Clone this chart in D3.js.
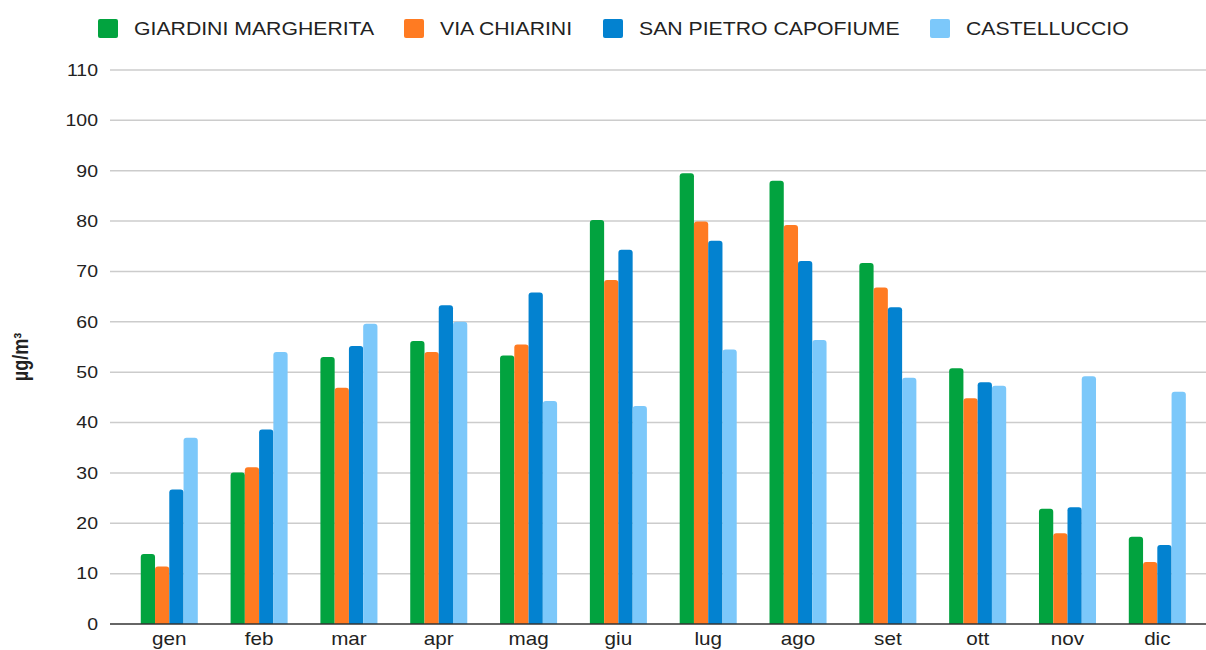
<!DOCTYPE html>
<html>
<head>
<meta charset="utf-8">
<script src="https://cdn.jsdelivr.net/npm/d3@7"></script>
<style>
  body { margin: 0; background: #fff; }
  svg { display: block; font-family: 'Liberation Sans', Arial, sans-serif; }
</style>
</head>
<body>
<svg id="chart" width="1206" height="650"></svg>
<script>
  'use strict';

  // Data.
  var months = [ 'gen', 'feb', 'mar', 'apr', 'mag', 'giu', 'lug', 'ago', 'set', 'ott', 'nov', 'dic' ];
  var seriesNames = [ 'GIARDINI MARGHERITA', 'VIA CHIARINI', 'SAN PIETRO CAPOFIUME', 'CASTELLUCCIO' ];
  var giardiniMargherita = [ 13.9, 30.1, 53.0, 56.2, 53.3, 80.2, 89.5, 88.0, 71.7, 50.8, 22.9, 17.3 ];
  var viaChiarini        = [ 11.4, 31.1, 46.9, 54.0, 55.5, 68.3, 79.9, 79.2, 66.8, 44.8, 18.0, 12.3 ];
  var sanPietro          = [ 26.7, 38.6, 55.2, 63.3, 65.8, 74.3, 76.1, 72.1, 62.9, 48.0, 23.2, 15.7 ];
  var castelluccio       = [ 37.0, 54.0, 59.6, 60.0, 44.3, 43.3, 54.5, 56.4, 48.9, 47.3, 49.2, 46.1 ];
  var yTicks = [ 0, 10, 20, 30, 40, 50, 60, 70, 80, 90, 100, 110 ];
  var yLabel = 'µg/m³';

  var series = [ giardiniMargherita, viaChiarini, sanPietro, castelluccio ];
  var colors = [ '#02a33f', '#ff7b22', '#0382d0', '#7cc8fa' ];

  var svg = d3.select( '#chart' );

  // The picture is stretched sideways, so text is too.
  var stretch = 1.18;

  var gridLeft  = 110,
      gridRight = 1206;

  var x = d3.scaleBand()
    .domain( months )
    .range( [ 124.6, 1202 ] )
    .paddingInner( 0.365 )
    .paddingOuter( 0.18 );

  var x1 = d3.scaleBand()
    .domain( d3.range( series.length ) )
    .range( [ 0, x.bandwidth() ] );

  var y = d3.scaleLinear()
    .domain( [ 0, 110 ] )
    .range( [ 624, 70 ] );

  function stretched( tx, ty ) {
    return 'translate(' + tx + ',' + ty + ') scale(' + stretch + ',1)';
  }

  // Gridlines.
  svg.append( 'g' )
    .selectAll( 'line' )
    .data( yTicks.slice( 1 ) )
    .join( 'line' )
      .attr( 'x1', gridLeft )
      .attr( 'x2', gridRight )
      .attr( 'y1', y )
      .attr( 'y2', y )
      .style( 'stroke', '#cccccc' )
      .style( 'stroke-width', 1.5 );

  // Y tick labels.
  svg.append( 'g' )
    .selectAll( 'text' )
    .data( yTicks )
    .join( 'text' )
      .attr( 'transform', function( d ) { return stretched( 98, y( d ) ); } )
      .attr( 'dy', '0.35em' )
      .style( 'text-anchor', 'end' )
      .style( 'font-size', '16.5px' )
      .style( 'fill', '#222' )
      .text( function( d ) { return d; } );

  // Rounded-top bar path.
  function barPath( x0, w, yTop, yBase ) {
    var r = Math.min( 3, ( yBase - yTop ) / 2 );
    return 'M' + x0 + ',' + yBase +
      'V' + ( yTop + r ) +
      'Q' + x0 + ',' + yTop + ' ' + ( x0 + r ) + ',' + yTop +
      'H' + ( x0 + w - r ) +
      'Q' + ( x0 + w ) + ',' + yTop + ' ' + ( x0 + w ) + ',' + ( yTop + r ) +
      'V' + yBase + 'Z';
  }

  var groups = svg.append( 'g' )
    .selectAll( 'g' )
    .data( months )
    .join( 'g' )
      .attr( 'transform', function( m ) { return 'translate(' + x( m ) + ',0)'; } );

  groups.selectAll( 'path' )
    .data( function( m, i ) {
      return series.map( function( s, k ) { return { k: k, v: s[ i ] }; } );
    })
    .join( 'path' )
      .attr( 'd', function( d ) {
        return barPath( x1( d.k ), x1.bandwidth(), y( d.v ), y( 0 ) );
      })
      .style( 'fill', function( d ) { return colors[ d.k ]; } );

  // Baseline.
  svg.append( 'line' )
    .attr( 'x1', gridLeft )
    .attr( 'x2', gridRight )
    .attr( 'y1', y( 0 ) )
    .attr( 'y2', y( 0 ) )
    .style( 'stroke', '#333' )
    .style( 'stroke-width', 1.5 );

  // X labels (kept just inside the bottom edge).
  svg.append( 'g' )
    .selectAll( 'text' )
    .data( months )
    .join( 'text' )
      .attr( 'transform', function( m ) { return stretched( x( m ) + x.bandwidth() / 2, 645 ); } )
      .style( 'text-anchor', 'middle' )
      .style( 'font-size', '17.5px' )
      .style( 'fill', '#222' )
      .text( function( m ) { return m; } );

  // Y axis title.
  svg.append( 'text' )
    .attr( 'transform', 'translate(28,357) rotate(-90) scale(1,' + stretch + ')' )
    .style( 'text-anchor', 'middle' )
    .style( 'font-size', '18px' )
    .style( 'font-weight', 'bold' )
    .style( 'fill', '#222' )
    .text( yLabel );

  // Legend.
  var legendX = [ 98, 404, 603, 930 ];
  var legend = svg.append( 'g' )
    .selectAll( 'g' )
    .data( seriesNames )
    .join( 'g' )
      .attr( 'transform', function( d, i ) { return 'translate(' + legendX[ i ] + ',19)'; } );

  legend.append( 'rect' )
    .attr( 'width', 20 )
    .attr( 'height', 19 )
    .attr( 'rx', 2 )
    .style( 'fill', function( d, i ) { return colors[ i ]; } );

  legend.append( 'text' )
    .attr( 'transform', stretched( 36, 15.5 ) )
    .style( 'font-size', '18px' )
    .style( 'fill', '#222' )
    .text( function( d ) { return d; } );
</script>
</body>
</html>
